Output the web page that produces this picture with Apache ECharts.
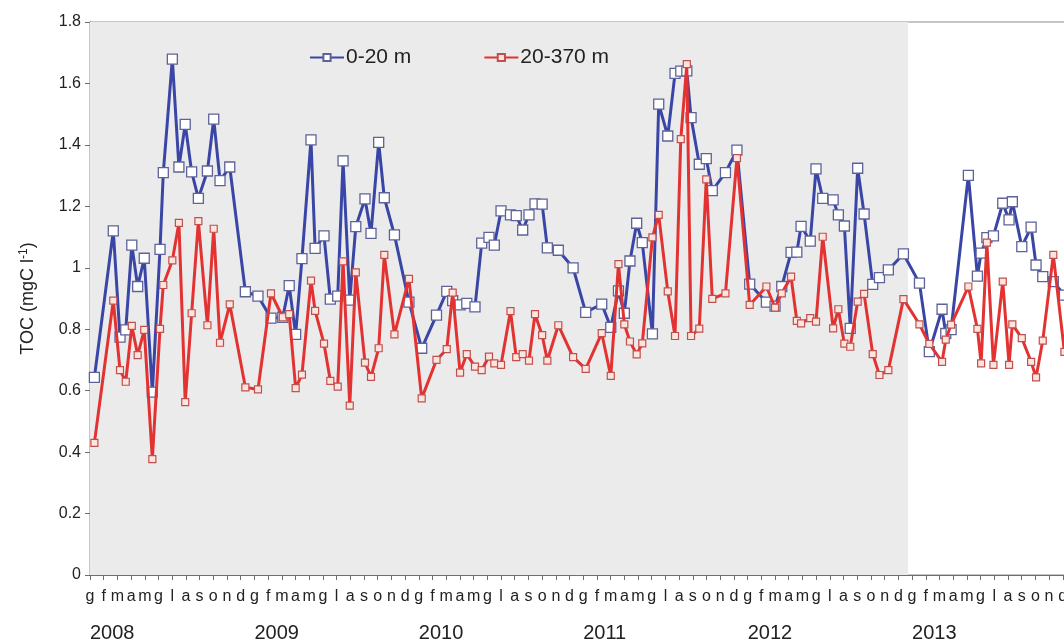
<!DOCTYPE html>
<html>
<head>
<meta charset="utf-8">
<script src="https://cdn.jsdelivr.net/npm/echarts@6/dist/echarts.min.js"></script>
<style>
  html, body { margin: 0; padding: 0; background: #fff; }
  #chart { width: 1064px; height: 641px; }
</style>
</head>
<body>
<div id="chart"></div>
<script>
// mesi dal gennaio 2008 (0 = inizio gennaio 2008)
var sampleMonths = [
  0.32, 1.70, 2.19, 2.61, 3.05, 3.48, 3.96, 4.55, 5.11, 5.35,
  6.01, 6.49, 6.95, 7.42, 7.91, 8.57, 9.03, 9.49, 10.20, 11.34,
  12.26, 13.21, 14.07, 14.54, 15.01, 15.47, 16.13, 16.43, 17.08, 17.54,
  18.08, 18.47, 18.96, 19.40, 20.07, 20.51, 21.07, 21.48, 22.22, 23.28,
  24.21, 25.29, 26.04, 26.47, 27.01, 27.50, 28.10, 28.59, 29.12, 29.51,
  30.00, 30.69, 31.11, 31.58, 32.04, 32.48, 33.00, 33.38, 34.18, 35.26,
  36.18, 37.35, 38.01, 38.57, 39.00, 39.41, 39.90, 40.31, 41.05, 41.51,
  42.17, 42.70, 43.12, 43.56, 43.87, 44.47, 44.98, 45.42, 46.38, 47.22,
  48.15, 49.37, 50.00, 50.49, 51.17, 51.59, 51.90, 52.57, 52.99, 53.48,
  54.24, 54.62, 55.06, 55.49, 56.03, 56.50, 57.13, 57.62, 58.27, 59.37,
  60.54, 61.26, 62.19, 62.46, 62.85, 64.11, 64.77, 65.04, 65.46, 65.94,
  66.62, 67.08, 67.32, 68.01, 68.69, 69.05, 69.54, 70.31, 71.12
];
// TOC 0-20 m
var toc0_20 = [
  0.643, 1.12, 0.774, 0.798, 1.074, 0.939, 1.031, 0.595, 1.060, 1.310,
  1.679, 1.328, 1.467, 1.312, 1.226, 1.315, 1.484, 1.284, 1.328, 0.922,
  0.908, 0.836, 0.839, 0.942, 0.783, 1.030, 1.416, 1.063, 1.104, 0.898,
  0.908, 1.348, 0.895, 1.134, 1.224, 1.112, 1.408, 1.228, 1.107, 0.888,
  0.738, 0.846, 0.923, 0.893, 0.879, 0.884, 0.873, 1.080, 1.099, 1.074,
  1.185, 1.172, 1.170, 1.123, 1.172, 1.208, 1.207, 1.065, 1.057, 1.000,
  0.855, 0.882, 0.806, 0.925, 0.852, 1.022, 1.145, 1.082, 0.785, 1.533,
  1.429, 1.633, 1.640, 1.641, 1.489, 1.337, 1.355, 1.251, 1.310, 1.383,
  0.947, 0.888, 0.875, 0.939, 1.050, 1.051, 1.135, 1.087, 1.322, 1.226,
  1.221, 1.172, 1.136, 0.803, 1.324, 1.175, 0.946, 0.968, 0.993, 1.045,
  0.950, 0.727, 0.865, 0.786, 0.799, 1.301, 0.973, 1.048, 1.098, 1.104,
  1.210, 1.156, 1.215, 1.069, 1.132, 1.009, 0.971, 0.955, 0.911
];
// TOC 20-370 m
var toc20_370 = [
  0.430, 0.893, 0.667, 0.629, 0.811, 0.716, 0.798, 0.377, 0.801, 0.944,
  1.024, 1.146, 0.563, 0.852, 1.152, 0.813, 1.127, 0.756, 0.881, 0.611,
  0.604, 0.917, 0.839, 0.849, 0.608, 0.652, 0.958, 0.860, 0.753, 0.632,
  0.613, 1.021, 0.551, 0.985, 0.691, 0.645, 0.738, 1.042, 0.783, 0.964,
  0.575, 0.700, 0.735, 0.919, 0.659, 0.719, 0.678, 0.667, 0.711, 0.689,
  0.684, 0.859, 0.709, 0.719, 0.698, 0.849, 0.781, 0.698, 0.813, 0.709,
  0.671, 0.787, 0.648, 1.012, 0.816, 0.760, 0.718, 0.754, 1.099, 1.172,
  0.923, 0.778, 1.419, 1.663, 0.778, 0.802, 1.288, 0.899, 0.917, 1.357,
  0.879, 0.939, 0.870, 0.917, 0.971, 0.827, 0.819, 0.836, 0.825, 1.101,
  0.803, 0.865, 0.753, 0.743, 0.890, 0.915, 0.719, 0.651, 0.667, 0.898,
  0.816, 0.752, 0.694, 0.766, 0.815, 0.939, 0.801, 0.689, 1.082, 0.684,
  0.955, 0.684, 0.816, 0.771, 0.694, 0.643, 0.763, 1.042, 0.726
];
var monthLetters = ['g', 'f', 'm', 'a', 'm', 'g', 'l', 'a', 's', 'o', 'n', 'd'];
var firstYear = 2008;
var shadedEnd = 59.7; // fine 2012

function pairs(xs, ys) {
  var out = [];
  for (var i = 0; i < xs.length; i++) out.push([xs[i], ys[i]]);
  return out;
}

var myChart = echarts.init(document.getElementById('chart'));
var font = 'Arial, "Liberation Sans", sans-serif';
var axisMax = 71.82;

myChart.setOption({
  animation: false,
  textStyle: { fontFamily: font },
  grid: {
    left: 90, right: -10, top: 22, bottom: 66,
    outerBoundsMode: 'none', containLabel: false,
    show: true, borderColor: '#8c8c8c', borderWidth: 1, backgroundColor: 'transparent'
  },
  legend: {
    left: 304, top: 42,
    itemWidth: 34, itemHeight: 9, itemGap: 72,
    textStyle: { fontSize: 21, color: '#222', fontFamily: font, padding: [0, 0, 0, -3] },
    data: ['0-20 m', '20-370 m']
  },
  xAxis: [
    {
      type: 'value', min: 0, max: axisMax, interval: 1,
      splitLine: { show: false },
      axisLine: { lineStyle: { color: '#6e6e6e' } },
      axisTick: { length: 5, lineStyle: { color: '#6e6e6e' } },
      axisLabel: {
        interval: 0, margin: 14, fontSize: 16, color: '#222',
        showMaxLabel: false,
        formatter: function (v) {
          if (Math.abs(v - Math.round(v)) > 1e-6) return '';
          return monthLetters[Math.round(v) % 12];
        }
      }
    },
    {
      type: 'value', min: 0, max: axisMax, interval: 12, position: 'bottom',
      splitLine: { show: false }, axisLine: { show: false }, axisTick: { show: false },
      axisLabel: {
        margin: 48, fontSize: 20, color: '#222', align: 'left', showMaxLabel: false,
        formatter: function (v) {
          if (v % 12 !== 0) return '';
          return String(firstYear + v / 12);
        }
      }
    }
  ],
  yAxis: {
    type: 'value', min: 0, max: 1.8, interval: 0.2,
    name: 'TOC (mgC l{sup|-1})', nameLocation: 'middle', nameGap: 52,
    nameTextStyle: {
      fontSize: 18, color: '#222',
      rich: { sup: { fontSize: 12, verticalAlign: 'top', padding: [0, 0, 8, 0], color: '#222' } }
    },
    splitLine: { show: false },
    axisLine: { show: true, lineStyle: { color: '#6e6e6e' } },
    axisTick: { show: true, length: 5, lineStyle: { color: '#6e6e6e' } },
    axisLabel: { fontSize: 16, color: '#222', margin: 9 }
  },
  series: [
    {
      name: '0-20 m', type: 'line', data: pairs(sampleMonths, toc0_20),
      symbol: 'rect', symbolSize: 10, z: 3,
      lineStyle: { color: '#3a46a6', width: 3 },
      itemStyle: { color: '#ffffff', borderColor: '#5d6399', borderWidth: 1.3 },
      markArea: {
        silent: true,
        itemStyle: { color: '#ebebeb' },
        data: [[{ xAxis: 0 }, { xAxis: shadedEnd }]]
      }
    },
    {
      name: '20-370 m', type: 'line', data: pairs(sampleMonths, toc20_370),
      symbol: 'rect', symbolSize: 7, z: 4,
      lineStyle: { color: '#e23232', width: 3 },
      itemStyle: { color: '#fde4df', borderColor: '#c0504d', borderWidth: 1.2 }
    }
  ]
});
</script>
</body>
</html>
